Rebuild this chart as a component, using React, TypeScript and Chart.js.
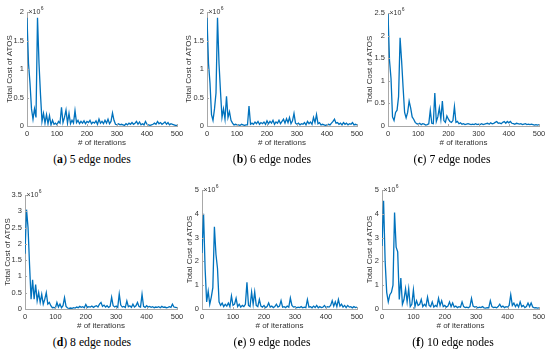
import React, { useEffect, useRef } from "react";
import { Chart, registerables } from "chart.js";
Chart.register(...registerables);

// ---------- data ----------
const iterations = [
  0, 5, 10, 15, 20, 25, 30, 35, 40, 45,
  50, 55, 60, 65, 70, 75, 80, 85, 90, 95,
  100, 105, 110, 115, 120, 125, 130, 135, 140, 145,
  150, 155, 160, 165, 170, 175, 180, 185, 190, 195,
  200, 205, 210, 215, 220, 225, 230, 235, 240, 245,
  250, 255, 260, 265, 270, 275, 280, 285, 290, 295,
  300, 305, 310, 315, 320, 325, 330, 335, 340, 345,
  350, 355, 360, 365, 370, 375, 380, 385, 390, 395,
  400, 405, 410, 415, 420, 425, 430, 435, 440, 445,
  450, 455, 460, 465, 470, 475, 480, 485, 490, 495,
  500,
];

// Total cost of ATOS, in units of 10^6
const cost5 = [
  1.9, 1.1, 0.75, 0.3, 0.12, 0.3, 0.15, 1.9, 1.1, 0.55,
  0.08, 0.22, 0.05, 0.2, 0.04, 0.18, 0.02, 0.1, 0.03, 0.05,
  0.02, 0.08, 0.05, 0.33, 0.06, 0.15, 0.28, 0.05, 0.22, 0.04,
  0.1, 0.05, 0.27, 0.06, 0.1, 0.04, 0.08, 0.05, 0.09, 0.04,
  0.08, 0.06, 0.1, 0.04, 0.07, 0.05, 0.09, 0.03, 0.12, 0.05,
  0.08, 0.04, 0.1, 0.05, 0.12, 0.04, 0.08, 0.23, 0.1, 0.03,
  0.02, 0.04, 0.02, 0.03, 0.02, 0.01, 0.04, 0.02, 0.05, 0.03,
  0.06, 0.03, 0.05, 0.08, 0.03, 0.07, 0.02, 0.04, 0.02, 0.08,
  0.03, 0.02, 0.01, 0.02, 0.03, 0.05, 0.03, 0.08, 0.04, 0.06,
  0.03, 0.05, 0.07, 0.03, 0.06, 0.02, 0.04, 0.03, 0.02, 0.01,
  0.01,
];
const cost6 = [
  1.9, 1.1, 0.75, 0.2, 0.1, 0.3, 0.58, 1.9, 1.1, 0.6,
  0.15, 0.3, 0.12, 0.52, 0.15, 0.25, 0.1, 0.05, 0.02, 0.03,
  0.02, 0.02, 0.01, 0.03, 0.02, 0.01, 0.02, 0.02, 0.35, 0.03,
  0.05, 0.03, 0.07, 0.04, 0.08, 0.03, 0.06, 0.04, 0.07, 0.03,
  0.09, 0.04, 0.08, 0.05, 0.1, 0.03, 0.07, 0.05, 0.1, 0.04,
  0.08, 0.12, 0.05, 0.13, 0.06, 0.15, 0.04, 0.09, 0.22, 0.05,
  0.03, 0.05, 0.02, 0.04, 0.03, 0.06, 0.02, 0.08, 0.04, 0.07,
  0.03, 0.15, 0.06, 0.2, 0.04, 0.06, 0.02, 0.03, 0.02, 0.01,
  0.02, 0.03, 0.02, 0.05, 0.08, 0.12, 0.05, 0.06, 0.03, 0.05,
  0.02, 0.06, 0.03, 0.05, 0.02, 0.04, 0.03, 0.06, 0.02, 0.03,
  0.02,
];
const cost7 = [
  2.5, 1.45, 1.05, 0.2, 0.12, 0.3, 0.35, 0.65, 1.95, 1.45,
  0.85, 0.3, 0.18, 0.3, 0.55, 0.4, 0.2, 0.15, 0.08, 0.05,
  0.04, 0.06, 0.03, 0.05, 0.04, 0.02, 0.03, 0.05, 0.35, 0.06,
  0.05, 0.73, 0.1, 0.2, 0.4, 0.15, 0.55, 0.12, 0.08, 0.22,
  0.15, 0.1, 0.08, 0.12, 0.43, 0.08, 0.1, 0.05, 0.07, 0.04,
  0.05, 0.03, 0.04, 0.05, 0.04, 0.03, 0.04, 0.03, 0.05, 0.03,
  0.04, 0.03, 0.05, 0.03, 0.04, 0.05, 0.06, 0.04, 0.07, 0.05,
  0.06, 0.08, 0.1, 0.06, 0.07, 0.05, 0.08, 0.1, 0.06, 0.1,
  0.07, 0.1, 0.06, 0.05, 0.04, 0.06, 0.05, 0.04, 0.05, 0.03,
  0.04, 0.05, 0.03, 0.04, 0.03, 0.04, 0.03, 0.02, 0.03, 0.02,
  0.03,
];
const cost8 = [
  1.7, 3.05, 2.5, 1.35, 0.3, 0.9, 0.3, 0.75, 0.25, 0.5,
  0.2, 0.45, 0.15, 0.3, 0.5, 0.15, 0.2, 0.1, 0.04, 0.05,
  0.03, 0.2, 0.06, 0.15, 0.04, 0.1, 0.35, 0.08, 0.03, 0.02,
  0.03, 0.02, 0.04, 0.03, 0.06, 0.04, 0.08, 0.05, 0.07, 0.04,
  0.14, 0.05, 0.07, 0.06, 0.09, 0.05, 0.08, 0.1, 0.06, 0.15,
  0.2, 0.08, 0.12, 0.06, 0.1, 0.05, 0.08, 0.36, 0.1, 0.06,
  0.09, 0.05, 0.46, 0.12, 0.06, 0.08, 0.05, 0.25, 0.07, 0.1,
  0.05, 0.15, 0.06, 0.1, 0.2, 0.08, 0.06, 0.45, 0.08, 0.05,
  0.1, 0.06, 0.08, 0.05, 0.07, 0.04, 0.06, 0.05, 0.07, 0.04,
  0.08, 0.05, 0.06, 0.04, 0.05, 0.07, 0.05, 0.15, 0.06, 0.05,
  0.04,
];
const cost9 = [
  2.35, 4.0, 1.7, 0.3, 0.75, 0.2, 0.5, 0.9, 3.45, 2.3,
  1.7, 0.3, 0.15, 0.25, 0.1, 0.2, 0.12, 0.25, 0.1, 0.55,
  0.15, 0.2, 0.45, 0.1, 0.2, 0.08, 0.15, 0.1, 0.2, 1.12,
  0.15, 0.1, 0.71, 0.2, 0.72, 0.15, 0.1, 0.4, 0.12, 0.08,
  0.15, 0.06, 0.1, 0.25, 0.08, 0.12, 0.06, 0.1, 0.2, 0.08,
  0.12, 0.35, 0.08, 0.1, 0.06, 0.12, 0.08, 0.46, 0.15, 0.08,
  0.1, 0.05, 0.08, 0.06, 0.1, 0.05, 0.08, 0.06, 0.4, 0.08,
  0.1, 0.05, 0.12, 0.06, 0.15, 0.05, 0.1, 0.06, 0.08, 0.15,
  0.06, 0.1, 0.08, 0.15, 0.35, 0.12, 0.3, 0.1, 0.4, 0.12,
  0.2, 0.08, 0.15, 0.06, 0.15, 0.08, 0.1, 0.05, 0.1, 0.06,
  0.08,
];
const cost10 = [
  2.65, 4.55, 2.0, 0.7, 0.3, 0.6, 0.7, 1.0, 4.05, 2.6,
  2.4, 0.4, 1.3, 0.2, 0.4, 0.85, 0.3, 0.85, 0.1, 0.2,
  0.8, 0.1, 0.35, 0.15, 0.2, 0.4, 0.1, 0.2, 0.12, 0.5,
  0.15, 0.1, 0.3, 0.08, 0.15, 0.1, 0.45, 0.15, 0.35, 0.1,
  0.15, 0.08, 0.12, 0.3, 0.1, 0.25, 0.08, 0.12, 0.06, 0.1,
  0.08, 0.3, 0.1, 0.06, 0.08, 0.05, 0.1, 0.45, 0.12, 0.08,
  0.1, 0.05, 0.08, 0.06, 0.1, 0.05, 0.04, 0.06, 0.05, 0.35,
  0.1, 0.06, 0.08, 0.05, 0.1, 0.2, 0.08, 0.12, 0.06, 0.1,
  0.08, 0.15, 0.6, 0.15, 0.25, 0.1, 0.2, 0.08, 0.3, 0.1,
  0.15, 0.06, 0.1, 0.25, 0.1, 0.25, 0.08, 0.05, 0.06, 0.04,
  0.05,
];

const seriesList = [cost5, cost6, cost7, cost8, cost9, cost10];
const captionLetters = ["a", "b", "c", "d", "e", "f"];
const edgeNodeCounts = [5, 6, 7, 8, 9, 10];
const yMaxes = [2, 2, 2.5, 3.5, 5, 5];
const yStepSizes = [0.5, 0.5, 0.5, 0.5, 1, 1];
const xMax = 500;
const xStep = 100;
const yTitle = "Total Cost of ATOS";
const xTitle = "# of iterations";
const exponentBase = "×10";
const exponentPower = "6";

// ---------- layout (page pixels) ----------
const LAYOUT = [
  { cv: { left: 0, top: 0, width: 190, height: 150 }, area: { l: 27, t: 12, r: 177, b: 126 }, titleX: 9.3, cap: { x: 92, y: 159.5 } },
  { cv: { left: 180, top: 0, width: 190, height: 150 }, area: { l: 207, t: 12, r: 357, b: 126 }, titleX: 189, cap: { x: 272, y: 159.5 } },
  { cv: { left: 360, top: 0, width: 190, height: 150 }, area: { l: 388, t: 13, r: 539, b: 126 }, titleX: 370, cap: { x: 452, y: 159.5 } },
  { cv: { left: 0, top: 170, width: 190, height: 163 }, area: { l: 25, t: 195, r: 177, b: 309 }, titleX: 8, cap: { x: 92, y: 342.5 } },
  { cv: { left: 180, top: 170, width: 190, height: 163 }, area: { l: 202, t: 190, r: 357, b: 309 }, titleX: 190, cap: { x: 272, y: 342.5 } },
  { cv: { left: 360, top: 170, width: 190, height: 163 }, area: { l: 382, t: 190, r: 539, b: 309 }, titleX: 370, cap: { x: 453, y: 342.5 } },
];

const LINE_COLOR = "#0072BD";
const AXIS_COLOR = "#a8a8a8";
const TEXT_COLOR = "#333333";
const SANS = "'Liberation Sans', Arial, sans-serif";

function Panel({ idx }: { idx: number }) {
  const ref = useRef<HTMLCanvasElement | null>(null);
  const lay = LAYOUT[idx];
  useEffect(() => {
    if (!ref.current) return;
    const { cv, area } = lay;
    const titleFontSize = 8;
    const titleLH = titleFontSize * 1.2;
    const decor = {
      id: "decor",
      afterDraw(chart: any) {
        const { ctx, chartArea: a, scales } = chart;
        ctx.save();
        ctx.strokeStyle = AXIS_COLOR;
        ctx.lineWidth = 1;
        ctx.beginPath();
        scales.x.ticks.forEach((t: any) => {
          const px = Math.round(scales.x.getPixelForValue(t.value)) + 0.5;
          ctx.moveTo(px, a.bottom);
          ctx.lineTo(px, a.bottom - 2);
        });
        scales.y.ticks.forEach((t: any) => {
          const py = Math.round(scales.y.getPixelForValue(t.value)) + 0.5;
          ctx.moveTo(a.left, py);
          ctx.lineTo(a.left + 2, py);
        });
        ctx.stroke();
        ctx.fillStyle = TEXT_COLOR;
        ctx.textAlign = "left";
        ctx.textBaseline = "middle";
        ctx.font = `7px ${SANS}`;
        const ex = a.left + 1.5;
        const ey = a.top;
        ctx.fillText(exponentBase, ex, ey);
        const w = ctx.measureText(exponentBase).width;
        ctx.font = `5px ${SANS}`;
        ctx.fillText(exponentPower, ex + w + 0.3, ey - 3);
        ctx.restore();
      },
    };
    const yAxisWidth = area.l - cv.left;
    const xAxisHeight = cv.top + cv.height - area.b;
    const chart = new Chart(ref.current, {
      type: "line",
      data: {
        datasets: [
          {
            data: iterations.map((x, i) => ({ x, y: seriesList[idx][i] })),
            borderColor: LINE_COLOR,
            borderWidth: 1.3,
            pointRadius: 0,
            tension: 0,
            fill: false,
          },
        ],
      },
      options: {
        animation: false,
        responsive: false,
        maintainAspectRatio: false,
        events: [],
        layout: {
          padding: {
            left: 0,
            top: area.t - cv.top,
            right: cv.left + cv.width - area.r,
            bottom: 0,
          },
        },
        plugins: { legend: { display: false }, tooltip: { enabled: false } },
        scales: {
          x: {
            type: "linear",
            min: 0,
            max: xMax,
            afterFit: (s: any) => {
              s.height = xAxisHeight;
            },
            grid: { display: false, drawTicks: false },
            border: { display: true, color: AXIS_COLOR, width: 1 },
            ticks: {
              stepSize: xStep,
              padding: 3,
              color: TEXT_COLOR,
              font: { family: SANS, size: 7.5 },
              maxRotation: 0,
              callback: (v: any) => String(v),
            },
            title: {
              display: true,
              text: xTitle,
              color: TEXT_COLOR,
              font: { family: SANS, size: titleFontSize },
              padding: { top: 0, bottom: 2 },
            },
          },
          y: {
            type: "linear",
            min: 0,
            max: yMaxes[idx],
            afterFit: (s: any) => {
              s.width = yAxisWidth;
            },
            grid: { display: false, drawTicks: false },
            border: { display: true, color: AXIS_COLOR, width: 1 },
            ticks: {
              stepSize: yStepSizes[idx],
              padding: 3,
              color: TEXT_COLOR,
              font: { family: SANS, size: 7.5 },
              callback: (v: any) => String(v),
            },
            title: {
              display: true,
              text: yTitle,
              color: TEXT_COLOR,
              font: { family: SANS, size: titleFontSize },
              padding: { top: lay.titleX - cv.left - titleLH / 2, bottom: 0 },
            },
          },
        },
      },
      plugins: [decor],
    } as any);
    return () => chart.destroy();
  }, [idx]);

  const { cv, cap } = lay;
  return (
    <>
      <canvas
        ref={ref}
        width={cv.width}
        height={cv.height}
        style={{ position: "absolute", left: cv.left, top: cv.top, width: cv.width, height: cv.height }}
      />
      <div
        style={{
          position: "absolute",
          left: cap.x - 60,
          top: cap.y - 7,
          width: 120,
          height: 14,
          lineHeight: "14px",
          textAlign: "center",
          whiteSpace: "nowrap",
          fontFamily: "'Liberation Serif', 'DejaVu Serif', serif",
          fontSize: "11.7px",
          color: "#000",
        }}
      >
        (<b>{captionLetters[idx]}</b>) {edgeNodeCounts[idx]} edge nodes
      </div>
    </>
  );
}

export default function App() {
  return (
    <div
      style={{
        position: "absolute",
        left: 0,
        top: 0,
        width: 550,
        height: 350,
        background: "#ffffff",
        overflow: "hidden",
      }}
    >
      {LAYOUT.map((_, i) => (
        <Panel key={i} idx={i} />
      ))}
    </div>
  );
}
